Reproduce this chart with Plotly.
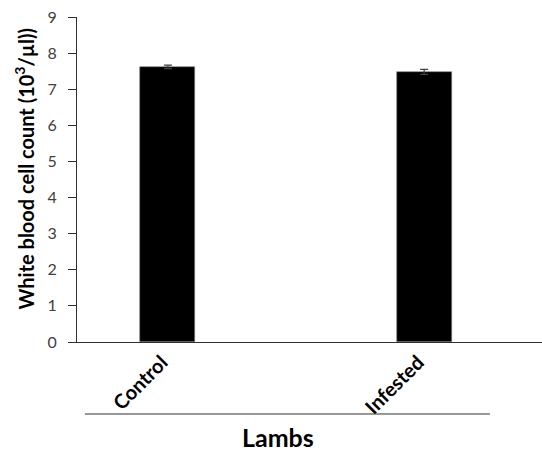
import plotly.graph_objects as go

# Group means and standard errors
groups = ["Control", "Infested"]
wbc_mean = [7.62, 7.48]
wbc_se = [0.05, 0.07]
y_ticks = [0, 1, 2, 3, 4, 5, 6, 7, 8, 9]

fig = go.Figure()
fig.add_trace(go.Bar(
    x=groups,
    y=wbc_mean,
    width=0.215,
    marker=dict(color="black", line=dict(color="#7f7f7f", width=0.6)),
    error_y=dict(type="data", array=wbc_se, visible=True,
                 color="#404040", thickness=1.2, width=4),
))

fig.update_layout(
    width=542, height=451,
    margin=dict(l=77, r=0, t=17, b=109),
    paper_bgcolor="white", plot_bgcolor="white",
    font=dict(family="Lato, Open Sans, sans-serif", color="#404040"),
    showlegend=False,
    bargap=0,
)

fig.update_xaxes(
    type="category",
    range=[-0.355, 1.46],
    showline=True, linecolor="#303030", linewidth=1,
    showgrid=False, ticks="",
    tickangle=-45,
    ticklabelshift=-6,
    tickfont=dict(size=20, color="black", weight="bold"),
)

fig.update_yaxes(
    range=[0, 9],
    tickvals=y_ticks,
    showline=True, linecolor="#303030", linewidth=1,
    showgrid=False, zeroline=False,
    ticks="outside", ticklen=8, tickcolor="#303030",
    ticklabelstandoff=8,
    tickfont=dict(size=16, color="#404040"),
)

# Vertical axis title, set slightly above the plot's mid-height
fig.add_annotation(text="<b>White blood cell count (10<sup>3</sup>/µl))</b>",
                   xref="paper", yref="paper", x=-0.113, y=0.535,
                   xanchor="center", yanchor="middle", textangle=-90,
                   showarrow=False, font=dict(size=20, color="black"))

# Rule under the category labels and the grouping title
fig.add_shape(type="line", xref="paper", yref="paper",
              x0=0.017, x1=0.888, y0=-0.2215, y1=-0.2215,
              line=dict(color="#303030", width=1))
fig.add_annotation(text="<b>Lambs</b>", xref="paper", yref="paper",
                   x=0.432, y=-0.292, xanchor="center", yanchor="middle",
                   showarrow=False,
                   font=dict(size=25, color="black"))

fig.write_html("out.html")
